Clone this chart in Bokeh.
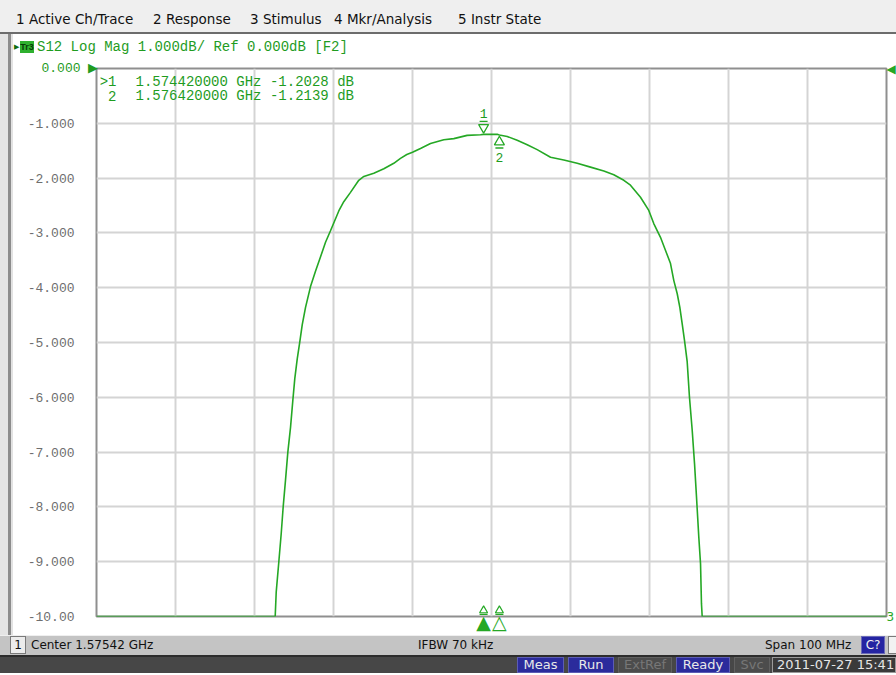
from bokeh.plotting import figure
from bokeh.models import Range1d, FixedTicker, Label, Div, LinearAxis
from bokeh.layouts import column, row
from bokeh.core.properties import value
from bokeh.embed import file_html
from bokeh.resources import INLINE

# ---------------- data ----------------
freq_ghz = [1.52542, 1.54804, 1.54817, 1.54850, 1.54880, 1.54905, 1.54934, 1.54964,
            1.54998, 1.55027, 1.55052, 1.55083, 1.55112, 1.55146, 1.55188, 1.55251,
            1.55314, 1.55377, 1.55441, 1.55504, 1.55609, 1.55672, 1.55757, 1.55862,
            1.55926, 1.56052, 1.56179, 1.56305, 1.56390, 1.56470, 1.56542, 1.56643,
            1.56770, 1.56938, 1.57065, 1.57234, 1.57403, 1.57442, 1.57614, 1.57642,
            1.57741, 1.57867, 1.57994, 1.58120, 1.58289, 1.58457, 1.58627, 1.58795,
            1.58964, 1.59090, 1.59217, 1.59301, 1.59428, 1.59533, 1.59596, 1.59681,
            1.59745, 1.59808, 1.59850, 1.59893, 1.59926, 1.59956, 1.59985, 1.60019,
            1.60048, 1.60083, 1.60112, 1.60137, 1.60166, 1.60188, 1.60200, 1.60209,
            1.62542]
s12_db = [-10.0, -10.0, -9.55, -9.00, -8.49, -8.00, -7.52, -7.00,
          -6.55, -6.06, -5.66, -5.30, -5.02, -4.68, -4.36, -3.98,
          -3.70, -3.44, -3.17, -2.96, -2.60, -2.43, -2.26, -2.04,
          -1.97, -1.91, -1.83, -1.73, -1.64, -1.57, -1.53, -1.46,
          -1.37, -1.30, -1.28, -1.22, -1.21, -1.2028, -1.20, -1.2139,
          -1.24, -1.31, -1.39, -1.48, -1.62, -1.67, -1.73, -1.80,
          -1.87, -1.94, -2.04, -2.13, -2.35, -2.59, -2.83, -3.08,
          -3.32, -3.56, -3.87, -4.11, -4.36, -4.66, -4.96, -5.35,
          -6.00, -6.61, -7.21, -7.82, -8.55, -9.04, -9.77, -10.0,
          -10.0]
assert len(freq_ghz) == len(s12_db)

marker_ids = ["1", "2"]
marker_freq_ghz = [1.57442, 1.57642]
marker_db = [-1.2028, -1.2139]
marker_active = [True, False]

center_ghz = 1.57542
span_ghz = 0.100
ref_db = 0.0
div_db = 1.0
n_div = 10
y_ticks = [0, -1, -2, -3, -4, -5, -6, -7, -8, -9, -10]
y_tick_labels = ["0.000", "-1.000", "-2.000", "-3.000", "-4.000", "-5.000",
                 "-6.000", "-7.000", "-8.000", "-9.000", "-10.00"]

trace_name = "Tr3"
trace_number = "3"
title_text = "S12 Log Mag 1.000dB/ Ref 0.000dB [F2]"
menu_items = ["1 Active Ch/Trace", "2 Response", "3 Stimulus", "4 Mkr/Analysis", "5 Instr State"]
status_channel = "1"
status_center = "Center 1.57542 GHz"
status_ifbw = "IFBW 70 kHz"
status_span = "Span 100 MHz"
status_cal = "C?"
status_buttons = ["Meas", "Run", "ExtRef", "Ready", "Svc"]
status_active = [True, True, False, True, False]
timestamp = "2011-07-27 15:41"

# ---------------- styling / layout constants ----------------
GREEN = "#25a825"
GREEN_TXT = "#1f9c1f"
W = 896
EDGE_W = 13
FRAME_W, FRAME_H = 790, 548
BL, BR, BT, BB = 83, 10, 13, 19
MENU_H = 34
TITLE_H = 21
STATUS_H = 20
BAR_H = 18
PAGE_LEFT, PAGE_TOP = 96, 68          # frame position on the page

x_start = center_ghz - span_ghz / 2
x_end = center_ghz + span_ghz / 2
y_bottom = ref_db - n_div * div_db
GHZ_PX = span_ghz / FRAME_W
DB_PX = (ref_db - y_bottom) / FRAME_H


def fx(page_x):
    return x_start + (page_x - PAGE_LEFT) * GHZ_PX


def fy(page_y):
    return ref_db - (page_y - PAGE_TOP) * DB_PX


fig = figure(frame_width=FRAME_W, frame_height=FRAME_H,
             x_range=Range1d(x_start, x_end), y_range=Range1d(y_bottom, ref_db),
             x_axis_location=None, output_backend="svg", toolbar_location=None,
             min_border_left=BL, min_border_right=BR, min_border_top=BT, min_border_bottom=BB,
             background_fill_color="white", border_fill_color="white")
fig.outline_line_color = "#8f8f8f"
fig.outline_line_width = 2

# reference level value + arrow, drawn as the plot title just left of the grid top
fig.title.text = y_tick_labels[0] + " \u25B6"
fig.title.align = "left"
fig.title.offset = -55
fig.title.standoff = -14
fig.title.text_font = "Liberation Mono"
fig.title.text_font_size = "13px"
fig.title.text_font_style = "normal"
fig.title.text_color = GREEN_TXT

x_ticks = [x_start + i * span_ghz / n_div for i in range(n_div + 1)]
fig.xgrid.ticker = FixedTicker(ticks=x_ticks)
fig.ygrid.ticker = FixedTicker(ticks=y_ticks)
for g in (fig.xgrid, fig.ygrid):
    g.grid_line_color = "#d4d4d4"
    g.grid_line_width = 2

ax = fig.yaxis[0]
ax.ticker = FixedTicker(ticks=y_ticks)
ax.major_label_overrides = {t: ("" if t == ref_db else lab) for t, lab in zip(y_ticks, y_tick_labels)}
ax.axis_line_color = None
ax.major_tick_line_color = None
ax.minor_tick_line_color = None
ax.major_label_standoff = 16
ax.major_label_text_font = "Liberation Mono"
ax.major_label_text_font_size = "13px"
ax.major_label_text_color = "#6e6e6e"

# right side: reference arrow at the top and trace number at the trace end
r_axis = LinearAxis(ticker=FixedTicker(ticks=[ref_db, s12_db[-1]]))
r_axis.major_label_overrides = {ref_db: "\u25C0", s12_db[-1]: trace_number}
r_axis.axis_line_color = None
r_axis.major_tick_line_color = None
r_axis.minor_tick_line_color = None
r_axis.major_tick_in = 0
r_axis.major_tick_out = 0
r_axis.major_label_standoff = 0
r_axis.major_label_text_font = "DejaVu Sans"
r_axis.major_label_text_font_size = "12px"
r_axis.major_label_text_color = GREEN
fig.add_layout(r_axis, "right")

# marker position indicators below the grid (active marker filled)
mk_axis = LinearAxis(ticker=FixedTicker(ticks=marker_freq_ghz))
mk_axis.major_label_overrides = {f: ("\u25B2" if a else "\u25B3")
                                 for f, a in zip(marker_freq_ghz, marker_active)}
mk_axis.axis_line_color = None
mk_axis.major_tick_line_color = None
mk_axis.minor_tick_line_color = None
mk_axis.major_tick_in = 0
mk_axis.major_tick_out = 0
mk_axis.major_label_standoff = -6
mk_axis.major_label_text_font = "DejaVu Sans"
mk_axis.major_label_text_font_size = "19px"
mk_axis.major_label_text_color = GREEN
fig.add_layout(mk_axis, "below")

# trace
fig.line(freq_ghz, s12_db, line_color=GREEN, line_width=1.6)

# markers on the trace
f1, f2 = marker_freq_ghz
v1, v2 = marker_db
fig.scatter([f1], [v1 + 7 * DB_PX], marker="inverted_triangle", size=10,
            fill_color="white", line_color=GREEN, line_width=1.3)
fig.segment([f1 - 4 * GHZ_PX], [v1 + 13 * DB_PX], [f1 + 4 * GHZ_PX], [v1 + 13 * DB_PX],
            line_color=GREEN, line_width=1.3)
fig.scatter([f2], [v2 - 7 * DB_PX], marker="triangle", size=10,
            fill_color="white", line_color=GREEN, line_width=1.3)
fig.segment([f2 - 4 * GHZ_PX], [v2 - 13 * DB_PX], [f2 + 4 * GHZ_PX], [v2 - 13 * DB_PX],
            line_color=GREEN, line_width=1.3)
fig.text([f1, f2], [v1 + 21 * DB_PX, v2 - 22 * DB_PX], text=marker_ids,
         text_align="center", text_baseline="middle", text_color=GREEN_TXT,
         text_font=value("Liberation Mono"), text_font_size="13px")

# small marker position indicators at the bottom of the grid
fig.scatter(marker_freq_ghz, [y_bottom + 6 * DB_PX] * 2, marker="triangle", size=8,
            fill_color="white", line_color=GREEN, line_width=1.2)
fig.segment([f - 4 * GHZ_PX for f in marker_freq_ghz], [y_bottom + 2 * DB_PX] * 2,
            [f + 4 * GHZ_PX for f in marker_freq_ghz], [y_bottom + 2 * DB_PX] * 2,
            line_color=GREEN, line_width=1.2)

# marker readout
for i, (mid, f, v) in enumerate(zip(marker_ids, marker_freq_ghz, marker_db)):
    yy = fy(81 + 14 * i)
    fig.add_layout(Label(x=fx(116), y=yy, text=(">" if i == 0 else "") + mid,
                         text_align="right", text_baseline="middle",
                         text_font="Liberation Mono", text_font_size="14px",
                         text_color=GREEN_TXT))
    fig.add_layout(Label(x=fx(135), y=yy, text=f"{f:.9f} GHz {v:.4f} dB",
                         text_align="left", text_baseline="middle",
                         text_font="Liberation Mono", text_font_size="14px",
                         text_color=GREEN_TXT))

# ---------------- instrument chrome (Divs) ----------------
FONT = "font-family:'DejaVu Sans';"

menu_left = [16, 153, 250, 334, 458]
menu_html = ('<div style="position:relative;width:%dpx;height:%dpx;background:#efefef;'
             'border-bottom:2px solid #6c6c6c;box-sizing:border-box;%s'
             'font-size:13.5px;color:#111;overflow:hidden;">' % (W, MENU_H, FONT))
for lx, item in zip(menu_left, menu_items):
    menu_html += ('<span style="position:absolute;left:%dpx;top:11px;line-height:16px;'
                  'white-space:nowrap;">%s</span>' % (lx, item))
menu_html += '</div>'
menu = Div(text=menu_html, width=W, height=MENU_H, margin=0)

panel_w = W - EDGE_W
title_html = ('<div style="position:relative;width:%dpx;height:%dpx;background:#ffffff;'
              'overflow:hidden;">' % (panel_w, TITLE_H))
title_html += ('<span style="position:absolute;left:1px;top:7px;font-size:7px;line-height:12px;'
               'color:#0d6b0d;%s">\u25B6</span>' % FONT)
title_html += ('<span style="position:absolute;left:7px;top:7px;width:14px;height:12px;'
               'line-height:12px;background:#2fb02f;color:#063d06;font-family:\'Liberation Sans\';'
               'font-size:9px;font-weight:bold;text-align:center;overflow:hidden;">%s</span>'
               % trace_name)
title_html += ('<span style="position:absolute;left:24px;top:6px;line-height:14px;'
               'font-family:\'Liberation Mono\';font-size:14px;color:%s;white-space:pre;">%s</span>'
               % (GREEN_TXT, title_text))
title_html += '</div>'
title_div = Div(text=title_html, width=panel_w, height=TITLE_H, margin=0)

fig_h = BT + FRAME_H + BB
edge = Div(text="", width=EDGE_W, height=TITLE_H + fig_h, margin=0,
           styles={"background": "linear-gradient(to right, #e4e4e4 0px, #e4e4e4 8px, "
                                 "#8c8c8c 8px, #8c8c8c 11px, #e2e2e2 11px, #e2e2e2 13px)"})

status_html = ('<div style="position:relative;width:%dpx;height:%dpx;background:#c4c4c4;'
               'border-top:1px solid #efefef;box-sizing:border-box;%s'
               'font-size:12px;color:#111;overflow:hidden;">' % (W, STATUS_H, FONT))
status_html += ('<span style="position:absolute;left:10px;top:0px;width:16px;height:18px;'
                'line-height:16px;text-align:center;background:#ececec;border:1px solid #7a7a7a;'
                'box-sizing:border-box;">%s</span>' % status_channel)
for lx, txt in [(31, status_center), (418, status_ifbw), (765, status_span)]:
    status_html += ('<span style="position:absolute;left:%dpx;top:1px;line-height:16px;'
                    'white-space:nowrap;">%s</span>' % (lx, txt))
status_html += ('<span style="position:absolute;left:861px;top:0px;width:24px;height:18px;'
                'line-height:16px;text-align:center;background:#2424a2;color:#f0f0f0;'
                'border:1px solid #6a6ab8;box-sizing:border-box;">%s</span>' % status_cal)
status_html += ('<span style="position:absolute;left:888px;top:0px;width:10px;height:18px;'
                'background:#f2f2f2;border:1px solid #7a7a7a;box-sizing:border-box;"></span>')
status_html += '</div>'
status = Div(text=status_html, width=W, height=STATUS_H, margin=0)

btn_left = [517, 568, 618, 676, 734]
btn_width = [47, 46, 54, 54, 36]
bar_html = ('<div style="position:relative;width:%dpx;height:%dpx;background:#474747;'
            'border-top:2px solid #2c2c2c;box-sizing:border-box;%s'
            'font-size:13px;overflow:hidden;">' % (W, BAR_H, FONT))
for lx, bw, txt, on in zip(btn_left, btn_width, status_buttons, status_active):
    bg, bd, fg = ("#2b2b9c", "#5c5cb4", "#e8e8e8") if on else ("#4c4c4c", "#606060", "#777777")
    bar_html += ('<span style="position:absolute;left:%dpx;top:0px;width:%dpx;height:16px;'
                 'line-height:14px;text-align:center;background:%s;color:%s;'
                 'border:1px solid %s;box-sizing:border-box;white-space:nowrap;">%s</span>'
                 % (lx, bw, bg, fg, bd, txt))
bar_html += ('<span style="position:absolute;left:772px;top:0px;width:124px;height:16px;'
             'line-height:14px;padding-left:4px;background:#3a3a3a;color:#e6e6e6;'
             'border:1px solid #9a9a9a;box-sizing:border-box;white-space:nowrap;">%s</span>'
             % timestamp)
bar_html += '</div>'
bar = Div(text=bar_html, width=W, height=BAR_H, margin=0)

p = column(menu, row(edge, column(title_div, fig)), status, bar)

open("out.html", "w").write(file_html(p, INLINE))
